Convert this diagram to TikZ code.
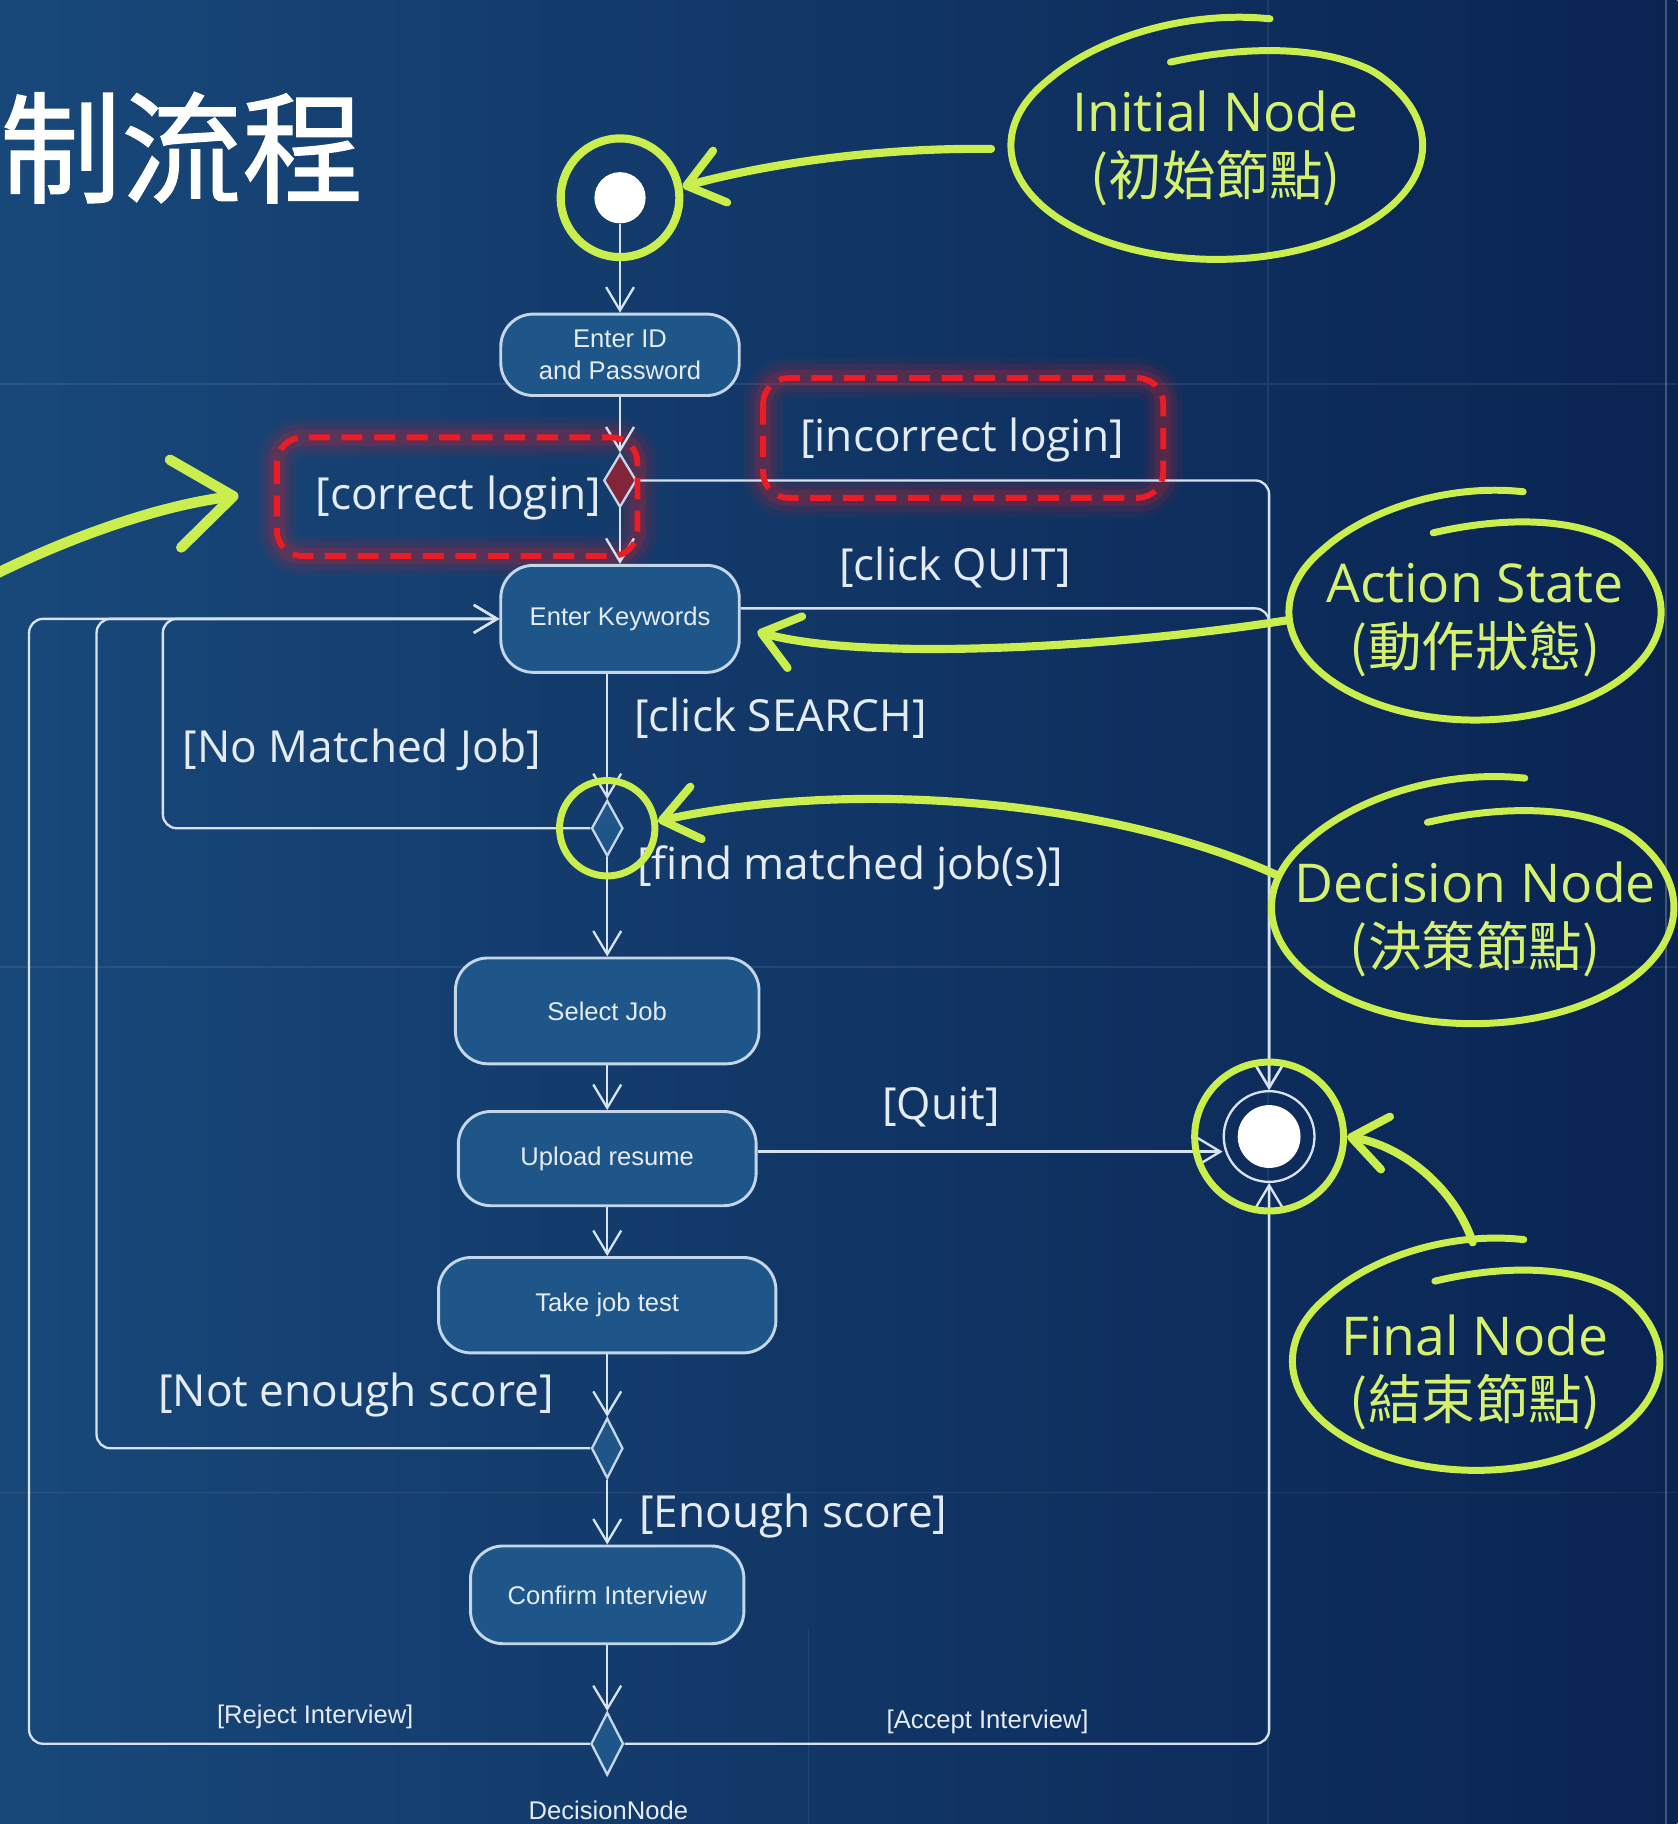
\documentclass[tikz,border=0pt]{standalone}
\usepackage{fontspec}
\setmainfont{Open Sans}
\newfontfamily\cjk{Noto Sans CJK TC}
\newfontfamily\cjktitle[FakeBold=1.2]{Noto Sans CJK TC}
\newfontfamily\arial{Liberation Sans}
\usetikzlibrary{arrows.meta,shapes.geometric,calc}

\definecolor{bgL}{RGB}{24,72,122}
\definecolor{bgR}{RGB}{10,36,82}
\definecolor{boxF}{RGB}{31,86,138}
\definecolor{boxB}{RGB}{196,214,232}
\definecolor{lineC}{RGB}{214,226,238}
\definecolor{txtC}{RGB}{228,235,242}
\definecolor{gr}{RGB}{202,238,78}
\definecolor{grT}{RGB}{214,240,112}
\definecolor{redC}{RGB}{236,28,36}
\definecolor{dRed}{RGB}{130,36,58}

\tikzset{
  flow/.style={draw=lineC, line width=2pt, rounded corners=12pt, -{Straight Barb[length=20pt,width=24pt]}},
  act/.style={draw=boxB, line width=2.5pt, fill=boxF, rounded corners=28pt, text=txtC, align=center, inner sep=0pt, font=\arial\fontsize{22}{28}\selectfont},
  dec/.style={diamond, draw=boxB, line width=2pt, fill=boxF, inner sep=0pt},
  guard/.style={text=txtC, font=\fontsize{38}{44}\selectfont, inner sep=0pt},
  smalltxt/.style={text=txtC, font=\arial\fontsize{22}{26}\selectfont, inner sep=0pt},
  anno/.style={draw=gr, line width=6pt, line cap=round, line join=round},
  annoarrow/.style={draw=gr, line width=7pt, line cap=round, -{Straight Barb[round, length=30pt, width=46pt]}},
  annotext/.style={text=grT, align=center, font=\fontsize{46}{55}\selectfont, inner sep=0pt},
  greenring/.style={circle, draw=gr, line width=6pt, inner sep=0pt},
  redbox/.style={draw=redC, line width=5pt, dash pattern=on 18pt off 10pt, rounded corners=22pt},
}

\newcommand{\handell}[4]{%
  \draw[anno] plot[smooth, domain=75:463, samples=90, variable=\t]
   ({#1 + #3*cos(\t)}, {#2 - #4*sin(\t)*(1 + 0.15*max(0,1-(\t-75)/70) - 0.25*max(0,(\t-400)/63))});
}

\begin{document}
\begin{tikzpicture}[x=1pt,y=-1pt]
\useasboundingbox (0,0) rectangle (1442,1568);
\fill[left color=bgL, right color=bgR] (0,0) rectangle (1442,1568);
% faint slide grid
\draw[white, opacity=0.08, line width=1.5pt] (0,330) -- (1442,330) (0,831) -- (1442,831) (0,1283) -- (1442,1283) (1090,0) -- (1090,1568) (695,1400) -- (695,1568);
\draw[white, opacity=0.22, line width=2pt] (1432,0) -- (1432,1568);

% title
\node[anchor=west, text=white, inner sep=0pt, font=\cjktitle\fontsize{104}{104}\selectfont] (title) at (0,127) {制流程};

% red glow
\foreach \w/\o in {34/0.07, 24/0.10, 14/0.18} {
  \draw[redC, opacity=\o, line width=\w pt, rounded corners=22pt] (238,376) rectangle (548,478);
  \draw[redC, opacity=\o, line width=\w pt, rounded corners=22pt] (656,325) rectangle (1000,428);
}

% nodes
\node[circle, fill=white, minimum size=44pt, inner sep=0pt] (init) at (533,170) {};
\node[act, minimum width=205pt, minimum height=70pt] (enterid) at (533,305) {Enter ID\\and Password};
\node[dec, fill=dRed, minimum width=28pt, minimum height=46pt] (d1) at (533,413) {};
\node[act, minimum width=205pt, minimum height=92pt] (kw) at (533,532) {Enter Keywords};
\node[dec, minimum width=27pt, minimum height=48pt] (d2) at (522,712) {};
\node[act, minimum width=261pt, minimum height=91pt] (sel) at (522,869) {Select Job};
\node[act, minimum width=256pt, minimum height=81pt] (up) at (522,996) {Upload resume};
\node[act, minimum width=290pt, minimum height=82pt] (test) at (522,1122) {Take job test};
\node[dec, minimum width=27pt, minimum height=52pt] (d3) at (522,1245) {};
\node[act, minimum width=235pt, minimum height=84pt] (conf) at (522,1371) {Confirm Interview};
\node[dec, minimum width=28pt, minimum height=54pt] (d4) at (522,1499) {};
\node[circle, draw=lineC, line width=2pt, minimum size=78pt, inner sep=0pt] (fin) at (1091,977) {};
\node[circle, fill=white, minimum size=54pt, inner sep=0pt] (finDot) at (fin) {};

\coordinate (lpA) at (140,532);
\coordinate (lpB) at (83,532);
\coordinate (lpC) at (25,532);
\coordinate (qy) at ($(up.east)+(0,-6)$);

% connectors
\draw[flow] (init.south) -- (enterid.north);
\draw[flow] (enterid.south) -- (d1.north);
\draw[flow] (d1.south) -- (kw.north);
\draw[flow] (d1.east) -| (fin.north);
\draw[flow] ($(kw.east)+(0,-9)$) -| (fin.north);
\draw[flow] (kw.south -| d2.north) -- (d2.north);
\draw[flow] (d2.west) -| (lpA) -- (kw.west);
\draw[flow] (d2.south) -- (sel.north);
\draw[flow] (sel.south) -- (up.north);
\draw[flow] (qy) -- (qy -| fin.west);
\draw[flow] (up.south) -- (test.north);
\draw[flow] (test.south) -- (d3.north);
\draw[flow] (d3.west) -| (lpB) -- (kw.west);
\draw[flow] (d3.south) -- (conf.north);
\draw[flow] (conf.south) -- (d4.north);
\draw[flow] (d4.west) -| (lpC) -- (kw.west);
\draw[flow] (d4.east) -| (fin.south);

% red dashed boxes
\draw[redbox] (238,376) rectangle (548,478);
\draw[redbox] (656,325) rectangle (1000,428);

% guard labels
\node[guard] (lCorrect) at (394,428) {[correct login]};
\node[guard] (lIncorrect) at (827,378) {[incorrect login]};
\node[guard] (lQuitK) at (821,488) {[click QUIT]};
\node[guard] (lSearch) at (671,617) {[click SEARCH]};
\node[guard] (lNoMatch) at (311,645) {[No Matched Job]};
\node[guard] (lFind) at (731,746) {[find matched job(s)]};
\node[guard] (lQuit) at (809,952) {[Quit]};
\node[guard] (lNotEnough) at (306,1199) {[Not enough score]};
\node[guard] (lEnough) at (682,1303) {[Enough score]};
\node[smalltxt] (lReject) at (271,1476) {[Reject Interview]};
\node[smalltxt] (lAccept) at (849,1480) {[Accept Interview]};
\node[smalltxt] (lDec) at (523,1556) {DecisionNode};

% green annotation rings
\node[greenring, line width=7pt, minimum size=102pt] (initRing) at (init) {};
\node[greenring, minimum size=82pt] (d2Ring) at (d2) {};
\node[greenring, minimum size=128pt] (finRing) at (fin) {};

% annotation ellipses and texts
\handell{1046}{125}{177}{98}
\node[annotext] (aInit) at (1045,128) {Initial Node\\{\cjk (初始節點)}};
\handell{1268}{526}{160}{93}
\node[annotext] (aAct) at (1268,533) {Action State\\{\cjk (動作狀態)}};
\handell{1266}{780}{173}{100}
\node[annotext] (aDec) at (1268,790) {Decision Node\\{\cjk (決策節點)}};
\handell{1269}{1170}{158}{94}
\node[annotext] (aFin) at (1268,1180) {Final Node\\{\cjk (結束節點)}};

% green arrows
\coordinate (gaInit) at (852,128);
\coordinate (gaL) at (-5,494);
\coordinate (gaLT) at (205,426);
\coordinate (gaAct) at (1108,533);
\coordinate (gaKwT) at (651,543);
\coordinate (gaDec) at (1097,752);
\coordinate (gaFin) at (1266,1068);
\draw[annoarrow] (gaInit) .. controls (765,127) and (670,138) .. (initRing.10);
\draw[annoarrow, line width=9pt, -{Straight Barb[round, length=50pt, width=76pt]}] (gaL) .. controls (60,462) and (135,435) .. (gaLT);
\draw[annoarrow] (gaAct) .. controls (950,558) and (740,568) .. (gaKwT);
\draw[annoarrow] (gaDec) .. controls (960,690) and (740,668) .. (d2Ring.8);
\draw[annoarrow] (gaFin) .. controls (1250,1020) and (1205,985) .. (finRing.east);
\end{tikzpicture}
\end{document}
